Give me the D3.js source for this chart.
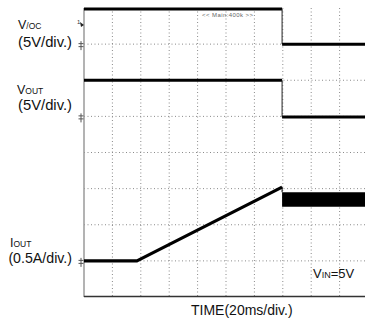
<!DOCTYPE html>
<html>
<head>
<meta charset="utf-8">
<script src="https://cdn.jsdelivr.net/npm/d3@7"></script>
<style>
  html, body { margin: 0; padding: 0; background: #fff; }
  svg { display: block; font-family: "Liberation Sans", Arial, sans-serif; }
</style>
</head>
<body>
<div id="chart"></div>
<script>
// ---- data (time in ms, 20 ms/div, 10 divisions) ----
const timeTicks = [0, 20, 40, 60, 80, 100, 120, 140, 160, 180, 200];
const divTicks = [0, 1, 2, 3, 4, 5, 6, 7, 8];

// V/OC trace (V), 5 V/div, ground at division 7
const vocTime = [0, 139.5, 139.5, 200];
const vocVolts = [4.85, 4.85, 0, 0];
// VOUT trace (V), 5 V/div, ground at division 5
const voutTime = [0, 139.5, 139.5, 200];
const voutVolts = [5.0, 5.0, -0.1, -0.1];
// IOUT trace (A), 0.5 A/div, ground at division 1
const ioutTime = [0, 37.3, 139.5];
const ioutAmps = [0, 0, 1.02];
// IOUT ripple band after step
const rippleTime = [139.5, 200];
const rippleLow = [0.75, 0.75];
const rippleHigh = [0.95, 0.95];

// channel settings: ground division and units per division
const channelNames = ["voc", "vout", "iout"];
const channelGround = [7, 5, 1];
const channelPerDiv = [5, 5, 0.5];

const W = 365, H = 322;
const pLeft = 84, pRight = 368, pTop = 8, pBottom = 297;

const svg = d3.select("#chart").append("svg").attr("width", W).attr("height", H);

const x = d3.scaleLinear().domain([0, 200]).range([pLeft, pRight]);
const y = d3.scaleLinear().domain([0, 8]).range([pBottom, pTop]);
const toDiv = (ch, v) => channelGround[ch] + v / channelPerDiv[ch];

// grid
const grid = svg.append("g");
grid.selectAll("line.v").data(timeTicks.slice(1, -1)).join("line")
  .attr("x1", d => x(d)).attr("x2", d => x(d))
  .attr("y1", pTop).attr("y2", pBottom)
  .attr("stroke", "#8a8a8a").attr("stroke-width", 1).attr("stroke-dasharray", "1,2.5");
grid.selectAll("line.h").data(divTicks.slice(1, -1)).join("line")
  .attr("x1", pLeft).attr("x2", pRight)
  .attr("y1", d => y(d)).attr("y2", d => y(d))
  .attr("stroke", "#8a8a8a").attr("stroke-width", 1).attr("stroke-dasharray", "1,2.5");

// borders
svg.append("line").attr("x1", pLeft).attr("x2", pLeft).attr("y1", pTop).attr("y2", pBottom)
  .attr("stroke", "#9a9a9a").attr("stroke-width", 1.5);
svg.append("line").attr("x1", pLeft).attr("x2", W).attr("y1", pBottom - 0.5).attr("y2", pBottom - 0.5)
  .attr("stroke", "#333").attr("stroke-width", 1.5);

// step traces: horizontal segments thick, transitions thin
function drawStep(ch, times, vals) {
  const g = svg.append("g");
  for (let i = 0; i < times.length - 1; i++) {
    const vertical = times[i] === times[i + 1];
    g.append("line")
      .attr("x1", x(times[i])).attr("x2", x(times[i + 1]))
      .attr("y1", y(toDiv(ch, vals[i]))).attr("y2", y(toDiv(ch, vals[i + 1])))
      .attr("stroke", vertical ? "#222" : "#000")
      .attr("stroke-width", vertical ? 1 : 3);
  }
}
drawStep(0, vocTime, vocVolts);
drawStep(1, voutTime, voutVolts);

// IOUT ramp
const lineGen = d3.line().x(d => x(d[0])).y(d => y(toDiv(2, d[1])));
svg.append("path")
  .datum(ioutTime.map((t, i) => [t, ioutAmps[i]]))
  .attr("d", lineGen)
  .attr("fill", "none").attr("stroke", "#000").attr("stroke-width", 3.2)
  .attr("stroke-linejoin", "round");
// IOUT ripple band
const areaGen = d3.area()
  .x(d => x(d[0]))
  .y0(d => y(toDiv(2, d[1])))
  .y1(d => y(toDiv(2, d[2])));
svg.append("path")
  .datum(rippleTime.map((t, i) => [t, rippleLow[i], rippleHigh[i]]))
  .attr("d", areaGen).attr("fill", "#000");
svg.append("line")
  .attr("x1", x(rippleTime[0])).attr("x2", x(rippleTime[0]))
  .attr("y1", y(toDiv(2, ioutAmps[ioutAmps.length - 1]))).attr("y2", y(toDiv(2, rippleHigh[0])))
  .attr("stroke", "#000").attr("stroke-width", 1);

// ground markers
channelGround.forEach(gd => {
  const gy = y(gd);
  const m = svg.append("g").attr("stroke", "#555").attr("stroke-width", 1);
  m.append("line").attr("x1", 81).attr("x2", 81).attr("y1", gy - 3).attr("y2", gy + 6);
  m.append("line").attr("x1", 78.5).attr("x2", 83.5).attr("y1", gy - 0.5).attr("y2", gy - 0.5);
  m.append("line").attr("x1", 78.5).attr("x2", 83.5).attr("y1", gy + 2.5).attr("y2", gy + 2.5);
});
// trigger marker
svg.append("text").attr("x", 77).attr("y", 24).attr("font-size", 6).attr("fill", "#333").text("1");
svg.append("path").attr("d", "M80,22 L84,25 L81,27 Z").attr("fill", "#222");

// top status text
svg.append("text").attr("x", 202).attr("y", 16.5).attr("font-size", 6).attr("fill", "#666")
  .attr("textLength", 51).text("<< Main:400k >>");

// labels
function label(xp, yp, parts, anchor) {
  const t = svg.append("text").attr("x", xp).attr("y", yp).attr("fill", "#111")
    .attr("text-anchor", anchor || "start");
  parts.forEach(p => t.append("tspan").attr("font-size", p[1]).text(p[0]));
}
label(18, 29, [["V", 12.5], ["/OC", 8.5]]);
label(72, 47, [["(5V/div.)", 14.8]], "end");
label(17, 93.5, [["V", 12.5], ["OUT", 8.5]]);
label(72, 110, [["(5V/div.)", 14.8]], "end");
label(10, 246.5, [["I", 12.5], ["OUT", 8.5]]);
label(72, 263, [["(0.5A/div.)", 14.2]], "end");
label(313, 278, [["V", 13], ["IN", 9], ["=5V", 13]]);
label(191, 315, [["TIME(20ms/div.)", 14]]);
</script>
</body>
</html>
